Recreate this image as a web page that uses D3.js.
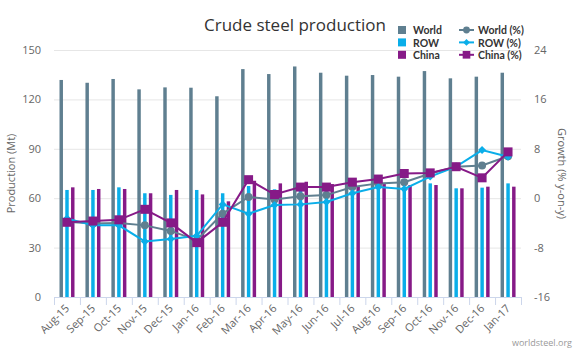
<!DOCTYPE html>
<html><head><meta charset="utf-8">
<script src="https://cdn.jsdelivr.net/npm/d3@7/dist/d3.min.js"></script>
<style>body{margin:0;background:#fff}svg{display:block;font-family:"Open Sans",sans-serif}</style>
</head><body>
<svg id="c" width="580" height="355"></svg>
<script>
const months = ["Aug-15","Sep-15","Oct-15","Nov-15","Dec-15","Jan-16","Feb-16","Mar-16","Apr-16","May-16","Jun-16","Jul-16","Aug-16","Sep-16","Oct-16","Nov-16","Dec-16","Jan-17"];
const worldMt = [131.8,130.1,132.4,126.1,127.3,127.1,121.9,138.4,135.4,140.0,136.2,134.4,134.8,133.8,137.2,132.8,133.8,136.2];
const rowMt   = [65.0,65.0,66.6,63.0,62.0,65.0,63.0,67.4,65.4,67.0,66.0,64.0,68.4,66.0,69.0,66.0,66.4,69.0];
const chinaMt = [66.6,65.6,65.6,63.0,65.0,62.3,58.1,70.6,69.0,70.0,68.6,67.0,68.6,68.0,68.0,66.0,67.0,67.0];
const worldPct = [-3.8,-4.1,-4.0,-4.4,-5.3,-6.8,-2.5,0.2,-0.2,0.3,0.5,1.8,2.4,2.6,4.0,5.1,5.3,6.8];
const rowPct   = [-3.3,-4.4,-4.4,-7.0,-6.6,-6.1,-1.0,-2.5,-1.1,-1.0,-0.6,0.8,1.8,1.5,3.5,5.1,7.8,6.7];
const chinaPct = [-3.9,-3.7,-3.5,-1.8,-4.0,-7.2,-3.9,3.0,0.6,1.8,1.8,2.6,3.1,4.0,4.1,5.1,3.3,7.5];
const leftTicks = [0,30,60,90,120,150];
const rightTicks = [-16,-8,0,8,16,24];

const colors = {World:"#5f7f90", ROW:"#0aaee9", China:"#861a87"};
const svg = d3.select("#c");
const L = 54, R = 521, T = 50, B = 297;

const x = d3.scaleBand().domain(months).range([L, R]).padding(0);
const yL = d3.scaleLinear().domain([0,150]).range([B, T]);
const yR = d3.scaleLinear().domain([-16,24]).range([B, T]);
const x1 = d3.scaleBand().domain(["World","ROW","China"]).range([5.5, 20.5]).paddingInner(0.4);

// grid
svg.append("g").selectAll("line").data(leftTicks.filter(d=>d>0)).join("line")
  .attr("x1", L).attr("x2", R).attr("y1", d=>yL(d)+0.5).attr("y2", d=>yL(d)+0.5)
  .attr("stroke", "#e6e6e6").attr("stroke-width", 1);

// axis labels
svg.append("g").selectAll("text").data(leftTicks).join("text")
  .attr("x", 41).attr("y", d=>yL(d)+4).attr("text-anchor","end")
  .attr("fill","#666").attr("font-size","11px").text(d=>d);
svg.append("g").selectAll("text").data(rightTicks).join("text")
  .attr("x", 534).attr("y", d=>yR(d)+4).attr("text-anchor","start")
  .attr("fill","#666").attr("font-size","11px").text(d=>d);

svg.append("text").attr("transform",`translate(15,${(T+B)/2}) rotate(-90)`)
  .attr("text-anchor","middle").attr("fill","#666").attr("font-size","11px").text("Production (Mt)");
svg.append("text").attr("transform",`translate(558,${(T+B)/2}) rotate(90)`)
  .attr("text-anchor","middle").attr("fill","#666").attr("font-size","11px").text("Growth (% y-on-y)");

// bars
const series = [["World", worldMt],["ROW", rowMt],["China", chinaMt]];
series.forEach(([name, vals])=>{
  svg.append("g").selectAll("rect").data(vals).join("rect")
    .attr("x", (d,i)=>x(months[i]) + x1(name))
    .attr("width", x1.bandwidth())
    .attr("y", d=>yL(d)).attr("height", d=>yL(0)-yL(d))
    .attr("fill", colors[name]);
});

// x axis
const xa = svg.append("g");
xa.append("line").attr("x1",L).attr("x2",R).attr("y1",B+0.5).attr("y2",B+0.5).attr("stroke","#ccd6eb");
xa.selectAll("line.t").data(months.concat(["end"])).join("line").attr("class","t")
  .attr("x1",(d,i)=>L+i*x.bandwidth()+0.5).attr("x2",(d,i)=>L+i*x.bandwidth()+0.5)
  .attr("y1",B).attr("y2",B+8).attr("stroke","#ccd6eb");
xa.selectAll("text").data(months).join("text")
  .attr("transform", d=>`translate(${x(d)+x.bandwidth()/2+3},${B+12}) rotate(-45)`)
  .attr("text-anchor","end").attr("fill","#666").attr("font-size","11px").text(d=>d);

// lines
const line = d3.line().x((d,i)=>x(months[i])+x.bandwidth()/2).y(d=>yR(d));
const lseries = [["World", worldPct, "circle"],["ROW", rowPct, "diamond"],["China", chinaPct, "square"]];
function marker(g, type, cx, cy, col, s){
  s = s || 1;
  if(type==="circle") g.append("circle").attr("cx",cx).attr("cy",cy).attr("r",4*s).attr("fill",col);
  else if(type==="diamond") g.append("path").attr("d",`M${cx},${cy-4*s}L${cx+4*s},${cy}L${cx},${cy+4*s}L${cx-4*s},${cy}Z`).attr("fill",col);
  else g.append("rect").attr("x",cx-4.5*s).attr("y",cy-4.5*s).attr("width",9*s).attr("height",9*s).attr("fill",col);
}
lseries.forEach(([name, vals, type])=>{
  const g = svg.append("g");
  g.append("path").attr("d", line(vals)).attr("fill","none").attr("stroke",colors[name]).attr("stroke-width",2);
  vals.forEach((v,i)=>marker(g, type, x(months[i])+x.bandwidth()/2, yR(v), colors[name]));
});

// title
svg.append("text").attr("x",295).attr("y",31).attr("text-anchor","middle")
  .attr("fill","#333").attr("font-size","17px").text("Crude steel production");

// legend
const lg = svg.append("g").attr("font-family","Lato, sans-serif").attr("font-size","10.5px").attr("font-weight","bold").attr("fill","#333");
const rows = ["World","ROW","China"];
rows.forEach((n,i)=>{
  const yy = 31 + i*12.4;
  lg.append("rect").attr("x",398).attr("y",yy-5).attr("width",8).attr("height",8).attr("fill",colors[n]);
  lg.append("text").attr("x",413).attr("y",yy+3.2).text(n);
  lg.append("line").attr("x1",459).attr("x2",474).attr("y1",yy-1).attr("y2",yy-1).attr("stroke",colors[n]).attr("stroke-width",2);
  marker(lg, lseries[i][2], 466.5, yy-1, colors[n], 0.85);
  lg.append("text").attr("x",478).attr("y",yy+3.2).text(n+" (%)");
});

svg.append("text").attr("x",572).attr("y",346).attr("text-anchor","end")
  .attr("fill","#999").attr("font-size","9px").text("worldsteel.org");
</script>
</body></html>
